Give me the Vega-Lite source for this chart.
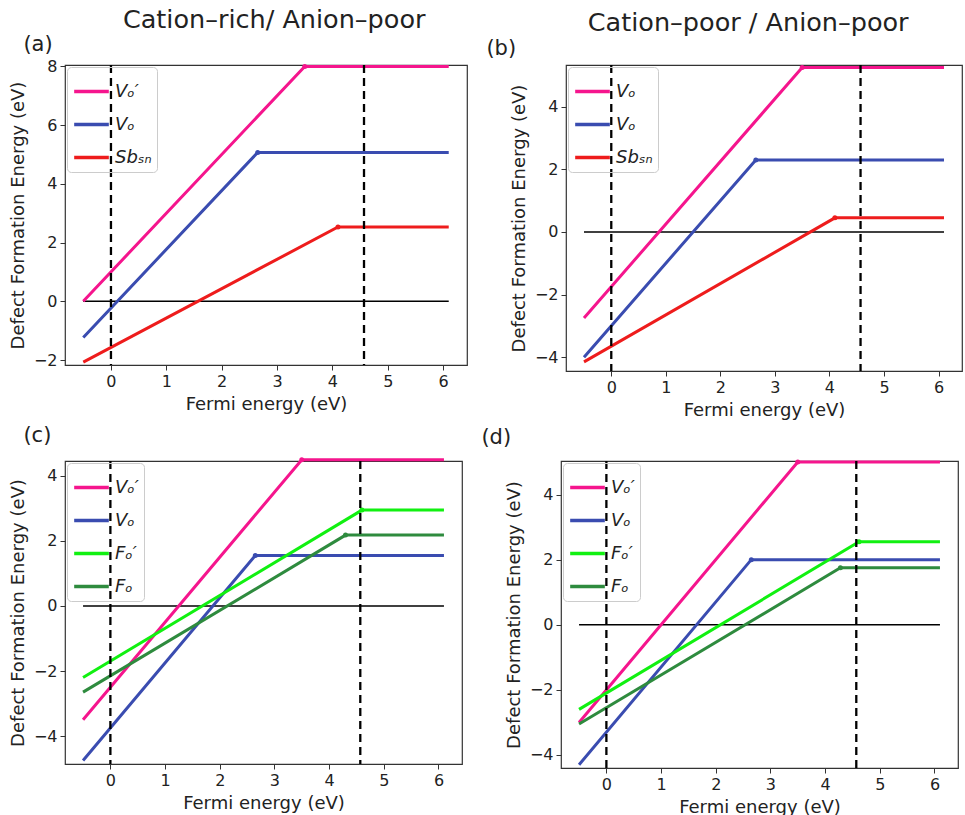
{
  "$schema": "https://vega.github.io/schema/vega-lite/v6.json",
  "padding": {"left": 8, "top": 8, "right": 0, "bottom": 0},
  "background": "white",
  "config": {
    "font": "DejaVu Sans",
    "view": {"stroke": "#333", "strokeWidth": 1.2},
    "axis": {"grid": false, "domain": false, "labelFontSize": 16, "titleFontSize": 18, "titleFontWeight": "normal", "labelColor": "#222", "titleColor": "#222", "tickColor": "#333", "tickSize": 5, "labelPadding": 3, "titlePadding": 6},
    "legend": {"orient": "top-left", "offset": 2, "symbolType": "stroke", "symbolStrokeWidth": 3.5, "symbolSize": 1200, "labelFontSize": 18, "labelFontStyle": "italic", "labelColor": "#222", "strokeColor": "#ccc", "padding": 5, "cornerRadius": 4, "rowPadding": 4, "title": null},
    "title": {"font": "DejaVu Sans", "fontWeight": "normal", "color": "#222"},
    "concat": {"spacing": 17}
  },
  "datasets": {
    "lines": [
      {"panel": "a", "series": "VOp", "x": -0.5, "y": 0, "k": 0},
      {"panel": "a", "series": "VOp", "x": 3.5, "y": 8, "k": 1},
      {"panel": "a", "series": "VOp", "x": 6.1, "y": 8, "k": 2},
      {"panel": "a", "series": "VO", "x": -0.5, "y": -1.23, "k": 0},
      {"panel": "a", "series": "VO", "x": 2.65, "y": 5.07, "k": 1},
      {"panel": "a", "series": "VO", "x": 6.1, "y": 5.07, "k": 2},
      {"panel": "a", "series": "SbSn", "x": -0.5, "y": -2.07, "k": 0},
      {"panel": "a", "series": "SbSn", "x": 4.1, "y": 2.53, "k": 1},
      {"panel": "a", "series": "SbSn", "x": 6.1, "y": 2.53, "k": 2},
      {"panel": "b", "series": "VOp", "x": -0.5, "y": -2.75, "k": 0},
      {"panel": "b", "series": "VOp", "x": 3.5, "y": 5.25, "k": 1},
      {"panel": "b", "series": "VOp", "x": 6.1, "y": 5.25, "k": 2},
      {"panel": "b", "series": "VO", "x": -0.5, "y": -4.0, "k": 0},
      {"panel": "b", "series": "VO", "x": 2.65, "y": 2.3, "k": 1},
      {"panel": "b", "series": "VO", "x": 6.1, "y": 2.3, "k": 2},
      {"panel": "b", "series": "SbSn", "x": -0.5, "y": -4.15, "k": 0},
      {"panel": "b", "series": "SbSn", "x": 4.1, "y": 0.45, "k": 1},
      {"panel": "b", "series": "SbSn", "x": 6.1, "y": 0.45, "k": 2},
      {"panel": "c", "series": "VOp", "x": -0.5, "y": -3.5, "k": 0},
      {"panel": "c", "series": "VOp", "x": 3.5, "y": 4.5, "k": 1},
      {"panel": "c", "series": "VOp", "x": 6.1, "y": 4.5, "k": 2},
      {"panel": "c", "series": "VO", "x": -0.5, "y": -4.75, "k": 0},
      {"panel": "c", "series": "VO", "x": 2.65, "y": 1.55, "k": 1},
      {"panel": "c", "series": "VO", "x": 6.1, "y": 1.55, "k": 2},
      {"panel": "c", "series": "FOp", "x": -0.5, "y": -2.2, "k": 0},
      {"panel": "c", "series": "FOp", "x": 4.6, "y": 2.95, "k": 1},
      {"panel": "c", "series": "FOp", "x": 6.1, "y": 2.95, "k": 2},
      {"panel": "c", "series": "FO", "x": -0.5, "y": -2.65, "k": 0},
      {"panel": "c", "series": "FO", "x": 4.3, "y": 2.18, "k": 1},
      {"panel": "c", "series": "FO", "x": 6.1, "y": 2.18, "k": 2},
      {"panel": "d", "series": "VOp", "x": -0.5, "y": -3.0, "k": 0},
      {"panel": "d", "series": "VOp", "x": 3.5, "y": 5.0, "k": 1},
      {"panel": "d", "series": "VOp", "x": 6.1, "y": 5.0, "k": 2},
      {"panel": "d", "series": "VO", "x": -0.5, "y": -4.3, "k": 0},
      {"panel": "d", "series": "VO", "x": 2.65, "y": 2.0, "k": 1},
      {"panel": "d", "series": "VO", "x": 6.1, "y": 2.0, "k": 2},
      {"panel": "d", "series": "FOp", "x": -0.5, "y": -2.6, "k": 0},
      {"panel": "d", "series": "FOp", "x": 4.62, "y": 2.55, "k": 1},
      {"panel": "d", "series": "FOp", "x": 6.1, "y": 2.55, "k": 2},
      {"panel": "d", "series": "FO", "x": -0.5, "y": -3.05, "k": 0},
      {"panel": "d", "series": "FO", "x": 4.28, "y": 1.75, "k": 1},
      {"panel": "d", "series": "FO", "x": 6.1, "y": 1.75, "k": 2}
    ],
    "zero": [{"x": -0.5, "y": 0}, {"x": 6.1, "y": 0}],
    "vlines": [{"v": 0}, {"v": 4.57}]
  },
  "resolve": {"scale": {"color": "independent"}},
  "spacing": 4,
  "vconcat": [
    {
      "resolve": {"scale": {"color": "independent"}},
      "spacing": 17,
      "hconcat": [
        {
          "title": {"text": "Cation–rich/ Anion–poor", "fontSize": 25.5, "anchor": "middle", "dx": 36, "offset": 0},
          "resolve": {"scale": {"color": "independent"}},
          "vconcat": [
            {
              "width": 402, "height": 300,
              "title": {"text": "(a)", "anchor": "start", "frame": "bounds", "fontSize": 21, "dx": 14, "offset": 3},
              "layer": [
                {"data": {"name": "zero"}, "mark": {"type": "line", "color": "black", "strokeWidth": 1.5},
                 "encoding": {"x": {"field": "x", "type": "quantitative", "scale": {"domain": [-0.83, 6.43], "nice": false, "zero": false}, "axis": {"values": [0,1,2,3,4,5,6], "format": "d", "title": "Fermi energy (eV)"}},
                              "y": {"field": "y", "type": "quantitative", "scale": {"domain": [-2.17, 8.05], "nice": false, "zero": false}, "axis": {"values": [-2,0,2,4,6,8], "format": "d", "title": "Defect Formation Energy (eV)"}}}},
                {"data": {"name": "lines"}, "transform": [{"filter": "datum.panel == 'a'"}], "mark": {"type": "line", "strokeWidth": 3},
                 "encoding": {"x": {"field": "x", "type": "quantitative"}, "y": {"field": "y", "type": "quantitative"}, "order": {"field": "k"},
                              "color": {"field": "series", "type": "nominal", "scale": {"domain": ["VOp", "VO", "SbSn"], "range": ["#f5158d", "#3a4cb0", "#ee1c1c"]},
                                        "legend": {"labelExpr": "datum.label == 'VOp' ? 'Vₒ′' : datum.label == 'VO' ? 'Vₒ' : 'Sbₛₙ'"}}}},
                {"data": {"name": "lines"}, "transform": [{"filter": "datum.panel == 'a' && datum.k == 1"}], "mark": {"type": "point", "filled": true, "size": 25, "opacity": 1},
                 "encoding": {"x": {"field": "x", "type": "quantitative"}, "y": {"field": "y", "type": "quantitative"}, "color": {"field": "series", "type": "nominal", "legend": null}}},
                {"data": {"name": "vlines"}, "mark": {"type": "rule", "color": "black", "strokeWidth": 2.3, "strokeDash": [8, 5]},
                 "encoding": {"x": {"field": "v", "type": "quantitative"}}}
              ]
            }
          ]
        },
        {
          "title": {"text": "Cation–poor / Anion–poor", "fontSize": 25.5, "anchor": "middle", "dx": 24, "offset": 0},
          "resolve": {"scale": {"color": "independent"}},
          "vconcat": [
            {
              "width": 396, "height": 306,
              "title": {"text": "(b)", "anchor": "start", "frame": "bounds", "fontSize": 21, "dx": -24, "offset": 3},
              "layer": [
                {"data": {"name": "zero"}, "mark": {"type": "line", "color": "black", "strokeWidth": 1.5},
                 "encoding": {"x": {"field": "x", "type": "quantitative", "scale": {"domain": [-0.83, 6.43], "nice": false, "zero": false}, "axis": {"values": [0,1,2,3,4,5,6], "format": "d", "title": "Fermi energy (eV)"}},
                              "y": {"field": "y", "type": "quantitative", "scale": {"domain": [-4.44, 5.33], "nice": false, "zero": false}, "axis": {"values": [-4,-2,0,2,4], "format": "d", "title": "Defect Formation Energy (eV)"}}}},
                {"data": {"name": "lines"}, "transform": [{"filter": "datum.panel == 'b'"}], "mark": {"type": "line", "strokeWidth": 3},
                 "encoding": {"x": {"field": "x", "type": "quantitative"}, "y": {"field": "y", "type": "quantitative"}, "order": {"field": "k"},
                              "color": {"field": "series", "type": "nominal", "scale": {"domain": ["VOp", "VO", "SbSn"], "range": ["#f5158d", "#3a4cb0", "#ee1c1c"]},
                                        "legend": {"labelExpr": "datum.label == 'VOp' ? 'Vₒ' : datum.label == 'VO' ? 'Vₒ' : 'Sbₛₙ'"}}}},
                {"data": {"name": "lines"}, "transform": [{"filter": "datum.panel == 'b' && datum.k == 1"}], "mark": {"type": "point", "filled": true, "size": 25, "opacity": 1},
                 "encoding": {"x": {"field": "x", "type": "quantitative"}, "y": {"field": "y", "type": "quantitative"}, "color": {"field": "series", "type": "nominal", "legend": null}}},
                {"data": {"name": "vlines"}, "mark": {"type": "rule", "color": "black", "strokeWidth": 2.3, "strokeDash": [8, 5]},
                 "encoding": {"x": {"field": "v", "type": "quantitative"}}}
              ]
            }
          ]
        }
      ]
    },
    {
      "resolve": {"scale": {"color": "independent"}},
      "spacing": 17,
      "hconcat": [
        {
          "width": 397, "height": 303,
          "title": {"text": "(c)", "anchor": "start", "frame": "bounds", "fontSize": 21, "dx": 14, "offset": 8},
          "layer": [
            {"data": {"name": "zero"}, "mark": {"type": "line", "color": "black", "strokeWidth": 1.5},
             "encoding": {"x": {"field": "x", "type": "quantitative", "scale": {"domain": [-0.83, 6.43], "nice": false, "zero": false}, "axis": {"values": [0,1,2,3,4,5,6], "format": "d", "title": "Fermi energy (eV)"}},
                          "y": {"field": "y", "type": "quantitative", "scale": {"domain": [-4.86, 4.46], "nice": false, "zero": false}, "axis": {"values": [-4,-2,0,2,4], "format": "d", "title": "Defect Formation Energy (eV)"}}}},
            {"data": {"name": "lines"}, "transform": [{"filter": "datum.panel == 'c'"}], "mark": {"type": "line", "strokeWidth": 3},
             "encoding": {"x": {"field": "x", "type": "quantitative"}, "y": {"field": "y", "type": "quantitative"}, "order": {"field": "k"},
                          "color": {"field": "series", "type": "nominal", "scale": {"domain": ["VOp", "VO", "FOp", "FO"], "range": ["#f5158d", "#3a4cb0", "#11f011", "#2e8b3e"]},
                                    "legend": {"labelExpr": "datum.label == 'VOp' ? 'Vₒ′' : datum.label == 'VO' ? 'Vₒ' : datum.label == 'FOp' ? 'Fₒ′' : 'Fₒ'"}}}},
            {"data": {"name": "lines"}, "transform": [{"filter": "datum.panel == 'c' && datum.k == 1"}], "mark": {"type": "point", "filled": true, "size": 25, "opacity": 1},
             "encoding": {"x": {"field": "x", "type": "quantitative"}, "y": {"field": "y", "type": "quantitative"}, "color": {"field": "series", "type": "nominal", "legend": null}}},
            {"data": {"name": "vlines"}, "mark": {"type": "rule", "color": "black", "strokeWidth": 2.3, "strokeDash": [8, 5]},
             "encoding": {"x": {"field": "v", "type": "quantitative"}}}
          ]
        },
        {
          "width": 397, "height": 307,
          "title": {"text": "(d)", "anchor": "start", "frame": "bounds", "fontSize": 21, "dx": -24, "offset": 8},
          "layer": [
            {"data": {"name": "zero"}, "mark": {"type": "line", "color": "black", "strokeWidth": 1.5},
             "encoding": {"x": {"field": "x", "type": "quantitative", "scale": {"domain": [-0.83, 6.43], "nice": false, "zero": false}, "axis": {"values": [0,1,2,3,4,5,6], "format": "d", "title": "Fermi energy (eV)"}},
                          "y": {"field": "y", "type": "quantitative", "scale": {"domain": [-4.4, 5.03], "nice": false, "zero": false}, "axis": {"values": [-4,-2,0,2,4], "format": "d", "title": "Defect Formation Energy (eV)"}}}},
            {"data": {"name": "lines"}, "transform": [{"filter": "datum.panel == 'd'"}], "mark": {"type": "line", "strokeWidth": 3},
             "encoding": {"x": {"field": "x", "type": "quantitative"}, "y": {"field": "y", "type": "quantitative"}, "order": {"field": "k"},
                          "color": {"field": "series", "type": "nominal", "scale": {"domain": ["VOp", "VO", "FOp", "FO"], "range": ["#f5158d", "#3a4cb0", "#11f011", "#2e8b3e"]},
                                    "legend": {"labelExpr": "datum.label == 'VOp' ? 'Vₒ′' : datum.label == 'VO' ? 'Vₒ' : datum.label == 'FOp' ? 'Fₒ′' : 'Fₒ'"}}}},
            {"data": {"name": "lines"}, "transform": [{"filter": "datum.panel == 'd' && datum.k == 1"}], "mark": {"type": "point", "filled": true, "size": 25, "opacity": 1},
             "encoding": {"x": {"field": "x", "type": "quantitative"}, "y": {"field": "y", "type": "quantitative"}, "color": {"field": "series", "type": "nominal", "legend": null}}},
            {"data": {"name": "vlines"}, "mark": {"type": "rule", "color": "black", "strokeWidth": 2.3, "strokeDash": [8, 5]},
             "encoding": {"x": {"field": "v", "type": "quantitative"}}}
          ]
        }
      ]
    }
  ]
}
